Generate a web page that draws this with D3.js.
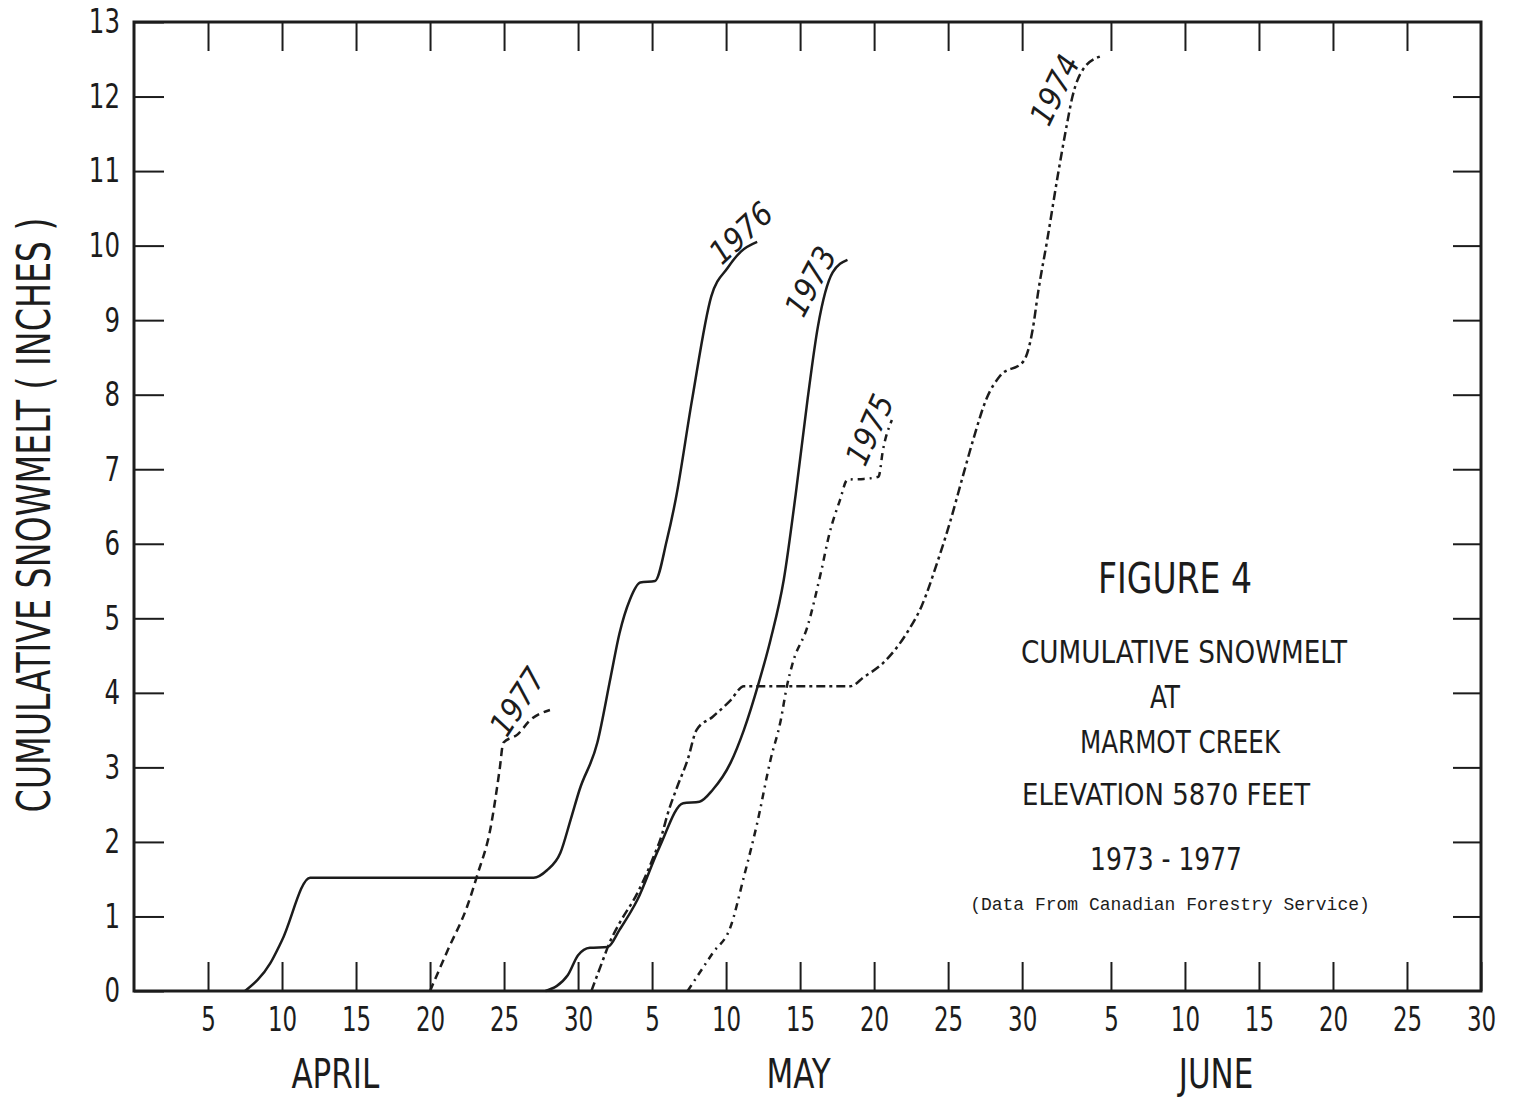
<!DOCTYPE html>
<html>
<head>
<meta charset="utf-8">
<script src="https://cdn.jsdelivr.net/npm/d3@7"></script>
<style>
  body { margin: 0; background: #fff; }
  svg text { font-family: "Liberation Sans Narrow", "DejaVu Sans Condensed", "Arial Narrow", sans-serif; font-stretch: condensed; fill: #1c1c1c; }
</style>
</head>
<body>
<svg id="chart" width="1532" height="1098"></svg>
<script>
// x = day counted from March 31 (April 1 = 1, May 1 = 31, June 1 = 62)
const xTickDays = [5, 10, 15, 20, 25, 30, 35, 40, 45, 50, 55, 60, 66, 71, 76, 81, 86, 91];
const xTickLabels = ["5", "10", "15", "20", "25", "30", "5", "10", "15", "20", "25", "30", "5", "10", "15", "20", "25", "30"];
const yTickValues = [0, 1, 2, 3, 4, 5, 6, 7, 8, 9, 10, 11, 12, 13];
const yTickLabels = ["0", "1", "2", "3", "4", "5", "6", "7", "8", "9", "10", "11", "12", "13"];
const months = ["APRIL", "MAY", "JUNE"];
const monthDays = [13.6, 44.9, 73.1];

const days1973 = [27.8, 29.3, 30, 30.8, 32, 32.8, 34, 35.5, 37.1, 38.2, 39.1, 40.3, 41.2, 42.2, 43, 43.9, 44.7, 45.5, 46.2, 47.2, 48.2];
const snow1973 = [0, 0.21, 0.48, 0.58, 0.59, 0.82, 1.22, 1.93, 2.52, 2.54, 2.7, 3.06, 3.5, 4.13, 4.71, 5.52, 6.66, 7.93, 8.91, 9.64, 9.81];

const days1974 = [30.9, 31.5, 32.2, 32.8, 34, 35.1, 35.7, 36, 36.7, 37.4, 38, 39.1, 40.3, 41.2, 48.4, 49.3, 50.6, 52.2, 53.2, 54.3, 55.1, 56, 56.7, 57.6, 58.5, 60.1, 60.7, 61.1, 61.7, 62.4, 63, 63.4, 64.1, 65.3];
const snow1974 = [0, 0.32, 0.68, 0.91, 1.31, 1.8, 2.12, 2.34, 2.74, 3.1, 3.5, 3.68, 3.9, 4.09, 4.09, 4.21, 4.4, 4.8, 5.16, 5.77, 6.27, 6.91, 7.4, 7.95, 8.25, 8.45, 8.86, 9.4, 10.08, 10.93, 11.6, 12.0, 12.36, 12.54];

const days1975 = [37.4, 39.1, 40.3, 41.2, 42.1, 43, 43.7, 44.1, 44.5, 45.5, 46.4, 47, 47.7, 48.2, 49.3, 50.3, 50.6, 51.2];
const snow1975 = [0, 0.51, 0.86, 1.53, 2.25, 3.1, 3.64, 4.08, 4.4, 4.89, 5.61, 6.15, 6.59, 6.86, 6.87, 6.9, 7.26, 7.66];

const days1976 = [7.5, 9.2, 10, 11.9, 27, 27.9, 28.8, 29.5, 30.1, 31.3, 32.2, 32.8, 33.5, 34.2, 35.2, 36, 36.6, 37.7, 39, 40.1, 41, 42.1];
const snow1976 = [0, 0.37, 0.68, 1.52, 1.52, 1.62, 1.85, 2.3, 2.7, 3.33, 4.21, 4.8, 5.25, 5.48, 5.5, 6.05, 6.6, 7.93, 9.32, 9.7, 9.92, 10.05];

const days1977 = [20, 21.2, 22.5, 23.2, 24.1, 24.7, 24.95, 25.9, 26.8, 28.1];
const snow1977 = [0, 0.55, 1.13, 1.56, 2.2, 2.97, 3.33, 3.44, 3.64, 3.77];

const years = ["1973", "1974", "1975", "1976", "1977"];
const yearDays = [days1973, days1974, days1975, days1976, days1977];
const yearSnow = [snow1973, snow1974, snow1975, snow1976, snow1977];
const yearDash = [null, "9,4,3,4", "7,5,2,5", null, "8,5"];
// where each year's hand lettering sits (day, inches) and its slant
const labelDays = [45.7, 62.2, 49.7, 41.0, 25.9];
const labelSnow = [9.52, 12.09, 7.53, 10.17, 3.88];
const labelAngle = [-62, -64, -66, -43, -57];

const ink = "#1c1c1c";
const svg = d3.select("#chart");
const x = d3.scaleLinear().domain([0, 91]).range([134, 1481]);
const y = d3.scaleLinear().domain([0, 13]).range([991, 22]);

// squeeze text horizontally, the lettering on the original is very condensed
function squeeze(sel, k) {
  sel.each(function () {
    const w = this.getComputedTextLength();
    d3.select(this).attr("textLength", w * k).attr("lengthAdjust", "spacingAndGlyphs");
  });
}

// axes with inward ticks on all four sides
const axisB = svg.append("g").attr("transform", `translate(0,${y(0)})`)
  .call(d3.axisBottom(x).tickValues(xTickDays).tickFormat((d, i) => xTickLabels[i]).tickSizeInner(-29).tickSizeOuter(0).tickPadding(16));
const axisT = svg.append("g").attr("transform", `translate(0,${y(13)})`)
  .call(d3.axisTop(x).tickValues(xTickDays.slice(0, -1)).tickFormat("").tickSizeInner(-29).tickSizeOuter(0));
const axisL = svg.append("g").attr("transform", `translate(${x(0)},0)`)
  .call(d3.axisLeft(y).tickValues(yTickValues).tickFormat((d, i) => yTickLabels[i]).tickSizeInner(-30).tickSizeOuter(0).tickPadding(14));
const axisR = svg.append("g").attr("transform", `translate(${x(91)},0)`)
  .call(d3.axisRight(y).tickValues(yTickValues.slice(1, -1)).tickFormat("").tickSizeInner(-28).tickSizeOuter(0));

[axisB, axisT, axisL, axisR].forEach(g => {
  g.select(".domain").remove();
  g.selectAll(".tick line").attr("stroke", ink).attr("stroke-width", 2);
  g.selectAll(".tick text").style("font-size", "34px").attr("fill", ink);
});
squeeze(axisB.selectAll(".tick text"), 0.75);
squeeze(axisL.selectAll(".tick text"), 0.8);

svg.append("rect")
  .attr("x", x(0)).attr("y", y(13))
  .attr("width", x(91) - x(0)).attr("height", y(0) - y(13))
  .attr("fill", "none").attr("stroke", ink).attr("stroke-width", 3);

// month names
const monthText = svg.selectAll(".month").data(months).join("text")
  .attr("class", "month")
  .attr("x", (d, i) => x(monthDays[i]))
  .attr("y", 1088)
  .attr("text-anchor", "middle")
  .style("font-size", "41px")
  .text(d => d);
squeeze(monthText, 0.84);

// y title
svg.append("text")
  .attr("transform", "translate(50,515) rotate(-90)")
  .attr("text-anchor", "middle")
  .attr("textLength", 595)
  .attr("lengthAdjust", "spacingAndGlyphs")
  .style("font-size", "46px")
  .text("CUMULATIVE  SNOWMELT  ( INCHES )");

// snowmelt curves
const line = d3.line().x(d => x(d[0])).y(d => y(d[1])).curve(d3.curveMonotoneX);
years.forEach((yr, k) => {
  const pts = yearDays[k].map((d, i) => [d, yearSnow[k][i]]);
  svg.append("path").datum(pts)
    .attr("fill", "none")
    .attr("stroke", ink)
    .attr("stroke-width", 2.5)
    .attr("stroke-dasharray", yearDash[k])
    .attr("d", line);

  svg.append("text")
    .attr("transform", `translate(${x(labelDays[k])},${y(labelSnow[k])}) rotate(${labelAngle[k]})`)
    .attr("text-anchor", "middle")
    .attr("dy", "0.35em")
    .style("font-size", "32px")
    .style("font-style", "italic")
    .text(yr);
});

// caption block
const caption = [
  { t: "FIGURE  4", cx: 1175, by: 593, fs: 42, w: 154 },
  { t: "CUMULATIVE  SNOWMELT", cx: 1184, by: 663, fs: 32, w: 326 },
  { t: "AT", cx: 1165, by: 708, fs: 32, w: 30 },
  { t: "MARMOT  CREEK", cx: 1180, by: 753, fs: 32, w: 200 },
  { t: "ELEVATION   5870   FEET", cx: 1166, by: 805, fs: 30, w: 288 },
  { t: "1973 - 1977", cx: 1166, by: 870, fs: 32, w: 152 }
];
svg.selectAll(".cap").data(caption).join("text")
  .attr("class", "cap")
  .attr("x", d => d.cx)
  .attr("y", d => d.by)
  .attr("text-anchor", "middle")
  .attr("textLength", d => d.w)
  .attr("lengthAdjust", "spacingAndGlyphs")
  .style("font-size", d => d.fs + "px")
  .text(d => d.t);

svg.append("text")
  .attr("x", 1170).attr("y", 910)
  .attr("text-anchor", "middle")
  .style("font-family", "'Liberation Mono', 'DejaVu Sans Mono', monospace")
  .style("font-size", "18px")
  .text("(Data From Canadian Forestry Service)");
</script>
</body>
</html>
